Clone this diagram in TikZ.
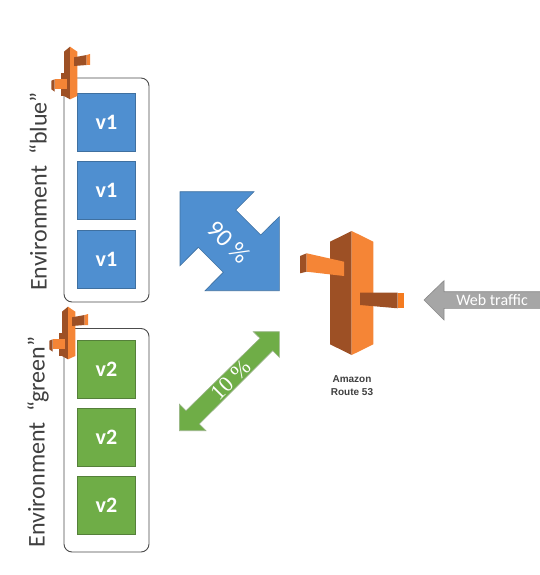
\documentclass[tikz,border=0pt]{standalone}
\usepackage{fontspec}
\setmainfont{Carlito}
\newfontfamily\arialf{Liberation Sans}
\newfontfamily\timesf{Liberation Serif}
\definecolor{bluefill}{HTML}{4F8FD0}
\definecolor{blueedge}{HTML}{3F70A0}
\definecolor{greenfill}{HTML}{6FAD47}
\definecolor{greenedge}{HTML}{55803A}
\definecolor{orlight}{HTML}{F58536}
\definecolor{ordark}{HTML}{9D5025}
\definecolor{ormid}{HTML}{F47B20}
\definecolor{grayfill}{HTML}{A6A6A6}
\definecolor{grayedge}{HTML}{8A8A8A}
\tikzset{
  envbox/.style={draw=black!70,line width=0.9pt,rounded corners=8pt,fill=white},
  bluebox/.style={draw=blueedge,line width=0.7pt,fill=bluefill,minimum width=58pt,minimum height=58pt,inner sep=0pt,text=white,font=\bfseries\fontsize{22}{22}\selectfont},
  greenbox/.style={draw=greenedge,line width=0.7pt,fill=greenfill,minimum width=58pt,minimum height=58pt,inner sep=0pt,text=white,font=\bfseries\fontsize{22}{22}\selectfont},
  envlabel/.style={rotate=90,text=black!75,font=\fontsize{24}{24}\selectfont,inner sep=0pt},
  pctlabel/.style={text=white,inner sep=0pt},
  light/.style={fill=orlight,draw=none},
  dark/.style={fill=ordark,draw=none},
  mid/.style={fill=ormid,draw=none},
}
\newcommand{\miniicon}[2]{%
  \begin{scope}[shift={(#1,#2)}]
    \fill[dark] (61,73.3) -- (64,73.3) -- (64,96) -- (61,96) -- cycle;
    \fill[dark] (64,51.7) -- (70,46.7) -- (70,99.3) -- (64,96) -- cycle;
    \fill[light] (70,46.7) -- (77.3,51.7) -- (77.3,96) -- (70,99.3) -- cycle;
    \fill[dark] (74,57.3) -- (86.7,55) -- (86.7,65) -- (74,66) -- cycle;
    \fill[light] (86.7,55) -- (90,54) -- (90,65) -- (86.7,65) -- cycle;
    \fill[dark] (51.3,80.7) -- (54.7,79.3) -- (54.7,91.7) -- (51.3,89.3) -- cycle;
    \fill[light] (54.7,79.3) -- (66.7,79.3) -- (66.7,89.3) -- (54.7,89.3) -- cycle;
  \end{scope}}
\begin{document}
\begin{tikzpicture}[x=1pt,y=-1pt]
\useasboundingbox (0,0) rectangle (539,575);
% blue environment
\draw[envbox] (64,78) rectangle (149,302);
\node[bluebox] (b1) at (106.5,122) {v1};
\node[bluebox] (b2) at (106.5,190) {v1};
\node[bluebox] (b3) at (106.5,259) {v1};
\miniicon{0}{0}
\node[envlabel] (envblue) at (38,191.5) {Environment~~“blue”};
% green environment
\draw[envbox] (64,328.5) rectangle (149,552);
\node[greenbox] (g1) at (106.5,369) {v2};
\node[greenbox] (g2) at (106.5,437) {v2};
\node[greenbox] (g3) at (106.5,505) {v2};
\miniicon{-2}{260}
\node[envlabel] (envgreen) at (38,442) {Environment~~“green”};
% 90 arrow
\draw[fill=bluefill,draw=blueedge,line width=0.6pt] (180,191.7) -- (254,191.7) -- (235.7,210) -- (260.7,235) -- (279.3,216.7) -- (279.3,290.7) -- (205,290.7) -- (223.3,272.3) -- (198.3,247.3) -- (180,265.7) -- cycle;
\node[pctlabel,rotate=-45,font=\fontsize{25}{25}\selectfont] (p90) at (229,242) {90 \%};
% 10 arrow
\draw[fill=greenfill,draw=greenedge!60!white,line width=0.6pt] (279.3,331.7) -- (253.3,331.7) -- (260,338.3) -- (186,410.7) -- (179.3,404) -- (179.3,430.7) -- (206,430.7) -- (199.3,424) -- (272.7,350.7) -- (279.3,357.3) -- cycle;
\node[pctlabel,rotate=45,font=\timesf\fontsize{22}{22}\selectfont] (p10) at (231,380) {10 \%};
% route 53
\fill[dark] (330,241.7) -- (351.7,231) -- (351.7,355) -- (330,344.3) -- cycle;
\fill[light] (351.7,231) -- (373.3,241.7) -- (373.3,344.3) -- (351.7,355) -- cycle;
\fill[dark] (300,256) -- (306.7,253.3) -- (306.7,271.7) -- (300,273.3) -- cycle;
\fill[light] (306.7,253.3) -- (344,261.7) -- (344,276) -- (306.7,271.7) -- cycle;
\fill[dark] (360,292.7) -- (397.7,292.7) -- (397.7,308.3) -- (360,305) -- cycle;
\fill[mid] (397.7,292.7) -- (403.7,292.7) -- (403.7,308.3) -- (397.7,308.3) -- cycle;
\node[align=center,text=black!75,inner sep=0pt,font=\arialf\bfseries\fontsize{10}{13}\selectfont] (r53) at (352,385.5) {Amazon\\Route 53};
% web traffic
\draw[fill=grayfill,draw=grayedge,line width=0.6pt] (424,300) -- (444,280.7) -- (444,291.7) -- (541,291.7) -- (541,308.3) -- (444,308.3) -- (444,320) -- cycle;
\node[text=white,inner sep=0pt,font=\fontsize{16}{16}\selectfont] (web) at (492,300) {Web traffic};
\end{tikzpicture}
\end{document}
